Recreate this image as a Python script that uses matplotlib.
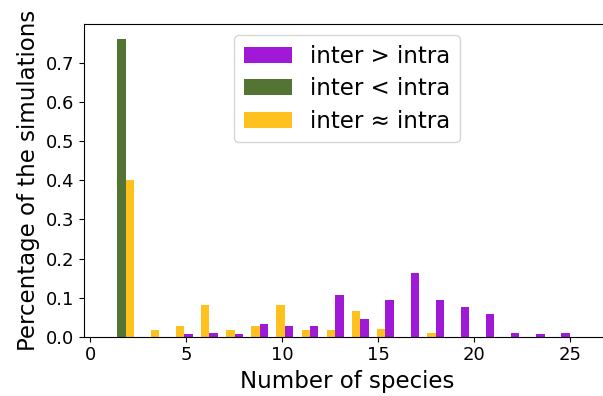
import matplotlib
matplotlib.use("Agg")
import matplotlib.pyplot as plt
import numpy as np

# histogram bins (number of species) and fraction of simulations per bin
bin_start = 0.967
bin_width = 1.311
n_bins = 19

labels = ["inter > intra", "inter < intra", "inter \u2248 intra"]
colors = ["#9F19D6", "#547433", "#FFC11E"]

frac_greater = [0, 0, 0, 0.006, 0.009, 0.006, 0.032, 0.028, 0.028, 0.107,
                0.046, 0.095, 0.162, 0.095, 0.077, 0.058, 0.010, 0.006, 0.010]
frac_less = [0.761, 0, 0, 0, 0, 0, 0, 0, 0, 0,
             0, 0, 0, 0, 0, 0, 0, 0, 0]
frac_approx = [0.402, 0.017, 0.028, 0.080, 0.017, 0.028, 0.080, 0.017, 0.017, 0.065,
               0.0205, 0, 0.009, 0, 0, 0, 0, 0, 0]

series = [frac_greater, frac_less, frac_approx]

fig = plt.figure(figsize=(6.03, 3.96), dpi=100)
ax = fig.add_axes([84 / 603, 59.3 / 396, 526 / 603, 312.7 / 396])

edges = bin_start + bin_width * np.arange(n_bins)
w = bin_width / len(series)
for i, (vals, lab, col) in enumerate(zip(series, labels, colors)):
    ax.bar(edges + i * w, vals, width=w, align="edge", color=col, label=lab)

ax.set_xlim(-0.33, 27.1)
ax.set_ylim(0, 0.80)
ax.set_xticks([0, 5, 10, 15, 20, 25])
ax.set_yticks(np.arange(0, 0.71, 0.1))
ax.tick_params(labelsize=13)
ax.set_xlabel("Number of species", fontsize=16.5)
ax.set_ylabel("Percentage of the simulations", fontsize=16.5)
ax.legend(loc="upper center", fontsize=16.5, labelspacing=0.42, handlelength=2.1)

fig.savefig("out.png", dpi=100)
